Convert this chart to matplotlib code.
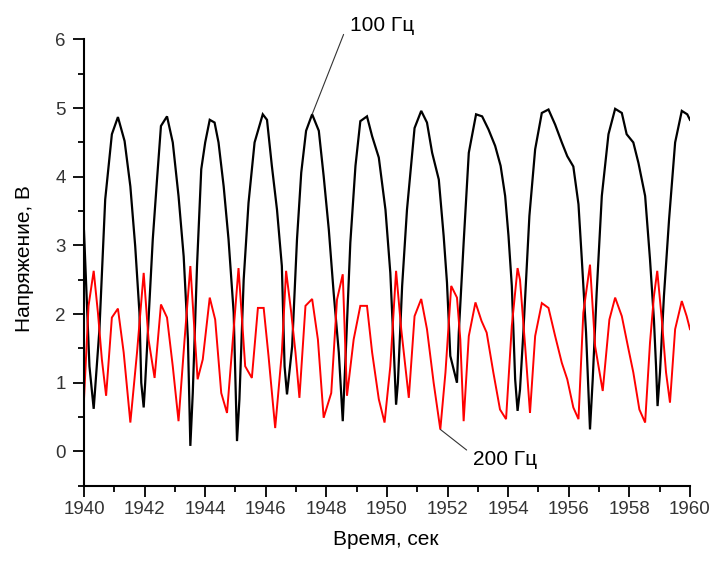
"""Voltage vs time plot, 100 Hz and 200 Hz signals."""

from __future__ import annotations
import matplotlib
matplotlib.use("Agg")
import matplotlib.pyplot as plt
from matplotlib.ticker import MultipleLocator

# 100 Hz signal (black)
black_t = [1940.00, 1940.18, 1940.32, 1940.51, 1940.70, 1940.92, 1941.12, 1941.34, 1941.53, 1941.69,
           1941.83, 1941.89, 1941.97, 1942.02, 1942.13, 1942.27, 1942.41, 1942.54, 1942.74, 1942.93,
           1943.12, 1943.29, 1943.43, 1943.51, 1943.59, 1943.73, 1943.87, 1944.00, 1944.15, 1944.31,
           1944.44, 1944.61, 1944.77, 1944.94, 1945.05, 1945.13, 1945.27, 1945.43, 1945.63, 1945.90,
           1946.04, 1946.20, 1946.37, 1946.53, 1946.62, 1946.70, 1946.87, 1947.03, 1947.17, 1947.33,
           1947.53, 1947.75, 1947.91, 1948.08, 1948.24, 1948.41, 1948.54, 1948.63, 1948.79, 1948.96,
           1949.12, 1949.34, 1949.51, 1949.73, 1949.95, 1950.11, 1950.22, 1950.30, 1950.36, 1950.50,
           1950.66, 1950.91, 1951.13, 1951.32, 1951.49, 1951.71, 1951.87, 1951.98, 1952.09, 1952.31,
           1952.37, 1952.53, 1952.70, 1952.94, 1953.14, 1953.35, 1953.57, 1953.75, 1953.90, 1954.01,
           1954.12, 1954.23, 1954.31, 1954.39, 1954.50, 1954.70, 1954.89, 1955.11, 1955.33, 1955.55,
           1955.77, 1955.95, 1956.15, 1956.32, 1956.43, 1956.57, 1956.70, 1956.79, 1956.92, 1957.09,
           1957.31, 1957.53, 1957.75, 1957.91, 1958.13, 1958.30, 1958.52, 1958.68, 1958.81, 1958.88,
           1958.93, 1959.01, 1959.14, 1959.31, 1959.51, 1959.73, 1959.91, 1960.00]
black_v = [3.21, 1.24, 0.62, 1.78, 3.67, 4.62, 4.87, 4.52, 3.86, 2.99,
           2.02, 1.00, 0.64, 1.00, 1.92, 3.09, 3.96, 4.74, 4.88, 4.50,
           3.72, 2.84, 1.63, 0.08, 0.85, 2.70, 4.11, 4.50, 4.83, 4.79,
           4.50, 3.86, 3.09, 2.02, 0.15, 0.76, 2.50, 3.62, 4.50, 4.91,
           4.83, 4.16, 3.52, 2.70, 1.24, 0.83, 1.53, 3.09, 4.06, 4.67,
           4.91, 4.67, 4.01, 3.23, 2.31, 1.44, 0.44, 1.34, 3.04, 4.16,
           4.81, 4.88, 4.59, 4.28, 3.52, 2.60, 1.53, 0.68, 1.00, 2.41,
           3.52, 4.71, 4.96, 4.79, 4.35, 3.96, 3.14, 2.46, 1.39, 1.00,
           1.73, 3.04, 4.35, 4.91, 4.88, 4.69, 4.45, 4.16, 3.72, 3.14,
           2.41, 1.05, 0.59, 0.90, 1.73, 3.43, 4.40, 4.93, 4.98, 4.76,
           4.50, 4.30, 4.15, 3.60, 2.80, 1.73, 0.32, 1.05, 2.31, 3.72,
           4.62, 4.99, 4.93, 4.62, 4.50, 4.20, 3.72, 2.80, 1.92, 1.24,
           0.66, 1.15, 2.26, 3.38, 4.50, 4.96, 4.91, 4.83]

# 200 Hz signal (red)
red_t = [1940.00, 1940.15, 1940.32, 1940.46, 1940.59, 1940.73, 1940.92, 1941.12, 1941.31, 1941.53,
         1941.75, 1941.97, 1942.13, 1942.33, 1942.54, 1942.74, 1942.93, 1943.12, 1943.32, 1943.51,
         1943.65, 1943.75, 1943.92, 1944.15, 1944.33, 1944.53, 1944.72, 1944.94, 1945.10, 1945.32,
         1945.54, 1945.74, 1945.93, 1946.09, 1946.31, 1946.53, 1946.67, 1946.84, 1946.98, 1947.11,
         1947.31, 1947.53, 1947.72, 1947.91, 1948.16, 1948.35, 1948.54, 1948.68, 1948.90, 1949.12,
         1949.34, 1949.51, 1949.73, 1949.92, 1950.11, 1950.30, 1950.47, 1950.72, 1950.91, 1951.13,
         1951.32, 1951.54, 1951.76, 1951.93, 1952.12, 1952.31, 1952.42, 1952.53, 1952.70, 1952.92,
         1953.12, 1953.29, 1953.51, 1953.73, 1953.93, 1954.12, 1954.31, 1954.39, 1954.56, 1954.72,
         1954.89, 1955.11, 1955.33, 1955.55, 1955.77, 1955.95, 1956.15, 1956.32, 1956.48, 1956.70,
         1956.87, 1957.12, 1957.34, 1957.53, 1957.75, 1957.97, 1958.13, 1958.33, 1958.52, 1958.68,
         1958.81, 1958.92, 1959.07, 1959.21, 1959.34, 1959.51, 1959.73, 1959.89, 1960.00]
red_v = [0.76, 2.12, 2.63, 2.02, 1.34, 0.81, 1.95, 2.08, 1.44, 0.42,
         1.44, 2.60, 1.63, 1.07, 2.14, 1.95, 1.24, 0.44, 1.63, 2.70,
         1.73, 1.05, 1.34, 2.24, 1.92, 0.85, 0.56, 1.78, 2.67, 1.24,
         1.07, 2.09, 2.09, 1.39, 0.34, 1.44, 2.63, 2.02, 1.44, 0.78,
         2.12, 2.22, 1.63, 0.49, 0.85, 2.21, 2.58, 0.81, 1.63, 2.12,
         2.12, 1.44, 0.76, 0.42, 1.24, 2.63, 1.78, 0.78, 1.97, 2.22,
         1.78, 1.00, 0.32, 1.15, 2.41, 2.24, 1.63, 0.44, 1.68, 2.17,
         1.90, 1.73, 1.15, 0.61, 0.47, 1.83, 2.67, 2.50, 1.53, 0.56,
         1.68, 2.16, 2.09, 1.68, 1.29, 1.05, 0.64, 0.47, 2.02, 2.72,
         1.53, 0.88, 1.92, 2.24, 1.97, 1.49, 1.15, 0.61, 0.42, 1.58,
         2.26, 2.63, 1.92, 1.15, 0.71, 1.78, 2.19, 1.97, 1.78]

x_ticks = [1940, 1942, 1944, 1946, 1948, 1950, 1952, 1954, 1956, 1958, 1960]
y_ticks = [0, 1, 2, 3, 4, 5, 6]
x_label = "Время, сек"
y_label = "Напряжение, В"
label_100 = "100 Гц"
label_200 = "200 Гц"
# annotated vertex (time, volts) and where its label sits
ann_100 = ((1947.53, 4.91), (1948.78, 6.06))
ann_200 = ((1951.76, 0.32), (1952.84, 0.02))


def main() -> None:
    plt.rcParams["font.family"] = ["Liberation Sans", "DejaVu Sans"]
    fig = plt.figure(figsize=(7.1, 5.64), dpi=100)
    ax = fig.add_axes([0.1183, 0.1388, 0.8535, 0.7912])

    ax.plot(black_t, black_v, color="black", lw=1.6, solid_joinstyle="miter")
    ax.plot(red_t, red_v, color="#ff0000", lw=1.4, solid_joinstyle="miter")

    ax.set_xlim(1940, 1960)
    ax.set_ylim(-0.5, 6)
    ax.set_xticks(x_ticks)
    ax.set_yticks(y_ticks)
    ax.xaxis.set_minor_locator(MultipleLocator(1))
    ax.yaxis.set_minor_locator(MultipleLocator(0.5))
    ax.tick_params(which="major", length=8, width=1.3, labelsize=13.5, labelcolor="#333333")
    ax.tick_params(which="minor", length=4, width=1.3)
    ax.tick_params(axis="x", pad=3)
    ax.tick_params(axis="y", pad=5)
    for side in ("top", "right"):
        ax.spines[side].set_visible(False)
    for side in ("left", "bottom"):
        ax.spines[side].set_linewidth(1.5)

    fig.text(0.544, 0.044, x_label, ha="center", va="center", fontsize=15)
    fig.text(0.035, 0.541, y_label, ha="center", va="center", rotation=90, fontsize=15)

    ax.annotate(label_100, xy=ann_100[0], xytext=ann_100[1], ha="left", va="bottom",
                fontsize=15, annotation_clip=False,
                arrowprops=dict(arrowstyle="-", color="#333333", lw=0.8, shrinkA=0, shrinkB=0,
                                relpos=(-0.1, 0.05)))
    ax.annotate(label_200, xy=ann_200[0], xytext=ann_200[1], ha="left", va="top",
                fontsize=15, annotation_clip=False,
                arrowprops=dict(arrowstyle="-", color="#333333", lw=0.8, shrinkA=0, shrinkB=0,
                                relpos=(-0.1, 1.0)))

    fig.savefig("out.png", dpi=100)
    plt.close(fig)


if __name__ == "__main__":
    main()
